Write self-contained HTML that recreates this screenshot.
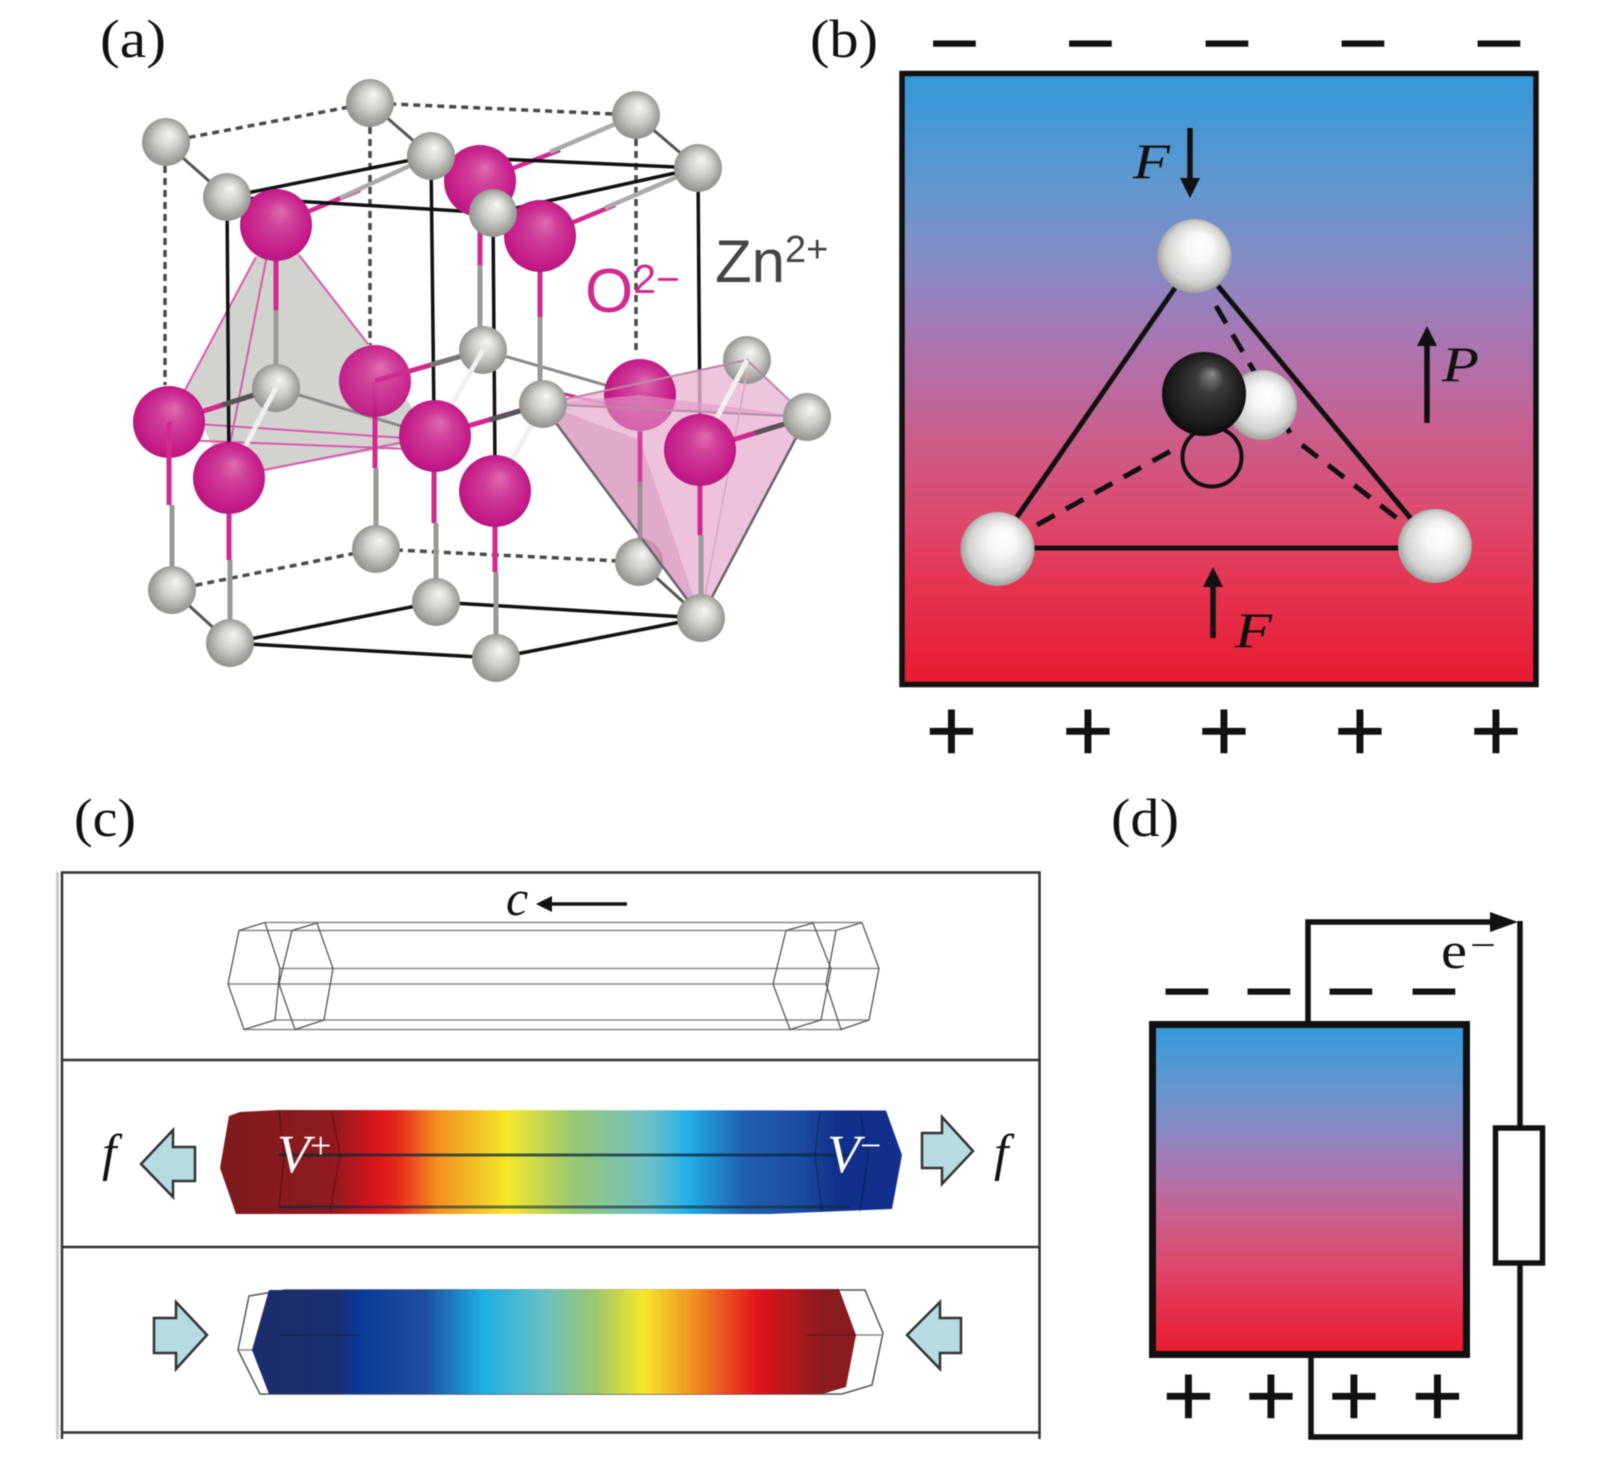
<!DOCTYPE html>
<html><head><meta charset="utf-8"><style>html,body{margin:0;padding:0;background:#fff}svg{display:block;filter:blur(.5px)}</style></head>
<body>
<svg xmlns="http://www.w3.org/2000/svg" width="1600" height="1460" viewBox="0 0 1600 1460">
<defs>
<radialGradient id="g" cx=".5" cy=".5" r=".55" fx=".58" fy=".32"><stop offset="0" stop-color="#f6f6f3"/><stop offset=".45" stop-color="#cfcfcb"/><stop offset=".85" stop-color="#9a9a97"/><stop offset="1" stop-color="#8c8c8a"/></radialGradient>
<radialGradient id="p" cx=".5" cy=".5" r=".55" fx=".58" fy=".3"><stop offset="0" stop-color="#e06cb0"/><stop offset=".35" stop-color="#cf3f9a"/><stop offset=".8" stop-color="#c61c88"/><stop offset="1" stop-color="#a9187a"/></radialGradient>
<radialGradient id="w" cx=".5" cy=".5" r=".55" fx=".6" fy=".32"><stop offset="0" stop-color="#fff"/><stop offset=".35" stop-color="#f6f6f6"/><stop offset=".75" stop-color="#d2d2d0"/><stop offset="1" stop-color="#8f8f8c"/></radialGradient>
<radialGradient id="k" cx=".5" cy=".5" r=".55" fx=".6" fy=".25"><stop offset="0" stop-color="#8a8a8a"/><stop offset=".3" stop-color="#3a3a3a"/><stop offset=".8" stop-color="#1a1a1a"/><stop offset="1" stop-color="#050505"/></radialGradient>
<linearGradient id="pol" x1="0" y1="0" x2="0" y2="1"><stop offset="0" stop-color="#3399d9"/><stop offset=".2" stop-color="#6696cf"/><stop offset=".33" stop-color="#8b88c2"/><stop offset=".45" stop-color="#ac74b0"/><stop offset=".58" stop-color="#c8608f"/><stop offset=".72" stop-color="#dc4a6f"/><stop offset=".85" stop-color="#e6324f"/><stop offset="1" stop-color="#e81b2e"/></linearGradient>
<linearGradient id="bar1" gradientUnits="userSpaceOnUse" x1="220" y1="0" x2="905" y2="0"><stop offset="0" stop-color="#7d1a1e"/><stop offset=".163" stop-color="#8f1a1e"/><stop offset=".23" stop-color="#dc151c"/><stop offset=".26" stop-color="#e82a1c"/><stop offset=".318" stop-color="#f39020"/><stop offset=".42" stop-color="#f5e82a"/><stop offset=".512" stop-color="#9cc870"/><stop offset=".628" stop-color="#6cc0c8"/><stop offset=".682" stop-color="#22b0e6"/><stop offset=".764" stop-color="#2060ae"/><stop offset=".851" stop-color="#1c4a9e"/><stop offset=".899" stop-color="#10308c"/><stop offset="1" stop-color="#10308c"/></linearGradient>
<linearGradient id="bar2" gradientUnits="userSpaceOnUse" x1="252" y1="0" x2="856" y2="0"><stop offset="0" stop-color="#1c2e6a"/><stop offset=".143" stop-color="#1a2f72"/><stop offset=".176" stop-color="#0a3a96"/><stop offset=".286" stop-color="#1f4ea0"/><stop offset=".385" stop-color="#1eb0e4"/><stop offset=".484" stop-color="#68c0c4"/><stop offset=".572" stop-color="#a0c868"/><stop offset=".648" stop-color="#f5e82a"/><stop offset=".736" stop-color="#f08a20"/><stop offset=".835" stop-color="#e2141c"/><stop offset=".945" stop-color="#8a1c20"/><stop offset="1" stop-color="#8a1c20"/></linearGradient>
</defs>

<!-- ===== panel labels ===== -->
<g font-family="'Liberation Serif',serif" font-size="54" fill="#111">
<text x="100" y="57" textLength="66" lengthAdjust="spacingAndGlyphs">(a)</text>
<text x="810" y="57" textLength="68" lengthAdjust="spacingAndGlyphs">(b)</text>
<text x="74" y="836" textLength="62" lengthAdjust="spacingAndGlyphs">(c)</text>
<text x="1111" y="836" textLength="68" lengthAdjust="spacingAndGlyphs">(d)</text>
</g>

<!-- ===== panel a ===== -->
<g fill="none" stroke="#4a4a4a" stroke-width="3.5" stroke-dasharray="7 5">
<path d="M165 142L370 103L636 115"/>
<path d="M165 142V385M370 103V345M636 115V355"/>
<path d="M172 590L376 549L639 562"/>
</g>
<polygon points="276,225 300,255 372,348 434,440 229,477 185,392 256,257" fill="#d2d3cf"/>
<g fill="none" stroke="#d95aa8" stroke-width="2">
<path d="M256 257L185 390M299 255L368 344M169 422L434 440M180 440L434 450M229 477L434 436M268 250L225 470"/>
</g>
<g stroke="#8a8a88" stroke-width="3" fill="none"><path d="M276 388L434 436M483 350L640 395"/></g>
<path d="M560 393L640 412" stroke="#d2298f" stroke-width="3"/>
<!-- back bonds -->
<g stroke-width="4.5" fill="none">
<path d="M165 142L227 197M370 103L431 156M636 115L698 168M172 590L230 643M639 562L701 618" stroke="#555" stroke-width="3"/>
<path d="M276 225L360 190" stroke="#d2298f"/><path d="M340 198L431 156" stroke="#aaa"/>
<path d="M480 181L560 150" stroke="#d2298f"/><path d="M550 152L636 115" stroke="#aaa"/>
<path d="M540 236L615 205" stroke="#d2298f"/><path d="M605 208L698 168" stroke="#aaa"/>
<path d="M276 225V310M480 181V265M540 236V317M375 381V468M640 395V482" stroke="#d2298f" stroke-width="5"/>
<path d="M276 310V388M480 265V350M540 317V404M376 468V549M640 482V562" stroke="#9a9a96" stroke-width="5"/>
</g>
<!-- black frame -->
<g stroke="#111" stroke-width="3.5" fill="none">
<path d="M227 197L431 156L698 168L493 213Z"/>
<path d="M227 197L229 470M431 156L434 420M493 213L495 470M698 168L700 430"/>
<path d="M230 643L436 602L701 618L496 658Z"/>
</g>
<!-- pink tetrahedron -->
<polygon points="543,404 747,360 807,417" fill="#e9b6d4" opacity=".8"/>
<circle cx="376" cy="549" r="24" fill="url(#g)"/>
<circle cx="639" cy="562" r="24" fill="url(#g)"/>
<circle cx="370" cy="103" r="24" fill="url(#g)"/>
<circle cx="166" cy="142" r="24" fill="url(#g)"/>
<circle cx="636" cy="115" r="24" fill="url(#g)"/>
<circle cx="480" cy="181" r="36" fill="url(#p)"/>
<circle cx="431" cy="156" r="24" fill="url(#g)"/>
<circle cx="698" cy="168" r="24" fill="url(#g)"/>
<circle cx="276" cy="225" r="36" fill="url(#p)"/>
<circle cx="227" cy="197" r="24" fill="url(#g)"/>
<circle cx="540" cy="236" r="36" fill="url(#p)"/>
<circle cx="493" cy="213" r="24" fill="url(#g)"/>
<circle cx="375" cy="381" r="36" fill="url(#p)" opacity=".95"/>
<path d="M375 381L483 350" stroke="#d2298f" stroke-width="5"/><path d="M430 365L483 350" stroke="#777" stroke-width="5"/>
<circle cx="483" cy="350" r="24" fill="url(#g)"/>
<circle cx="747" cy="360" r="24" fill="url(#g)"/>
<circle cx="640" cy="395" r="36" fill="url(#p)"/>
<polygon points="543,404 701,618 807,417 640,395" fill="#e39ac6" opacity=".6"/>
<polygon points="543,404 701,618 640,440" fill="#b96a9c" opacity=".28"/>
<path d="M550 415L701 618L807 417" fill="none" stroke="#666" stroke-width="2.5"/>
<path d="M543 404L807 417M543 404L747 360L807 417" fill="none" stroke="#b98aa6" stroke-width="2"/>
<path d="M640 432V482" stroke="#cf3f98" stroke-width="4.5"/>
<path d="M640 482V540" stroke="#a08a98" stroke-width="4.5"/>
<path d="M747 372L701 618" stroke="#d8a8c4" stroke-width="1.5"/>
<circle cx="276" cy="388" r="24" fill="url(#g)"/>
<path d="M169 422L276 388" stroke="#d2298f" stroke-width="5"/><path d="M222 405L276 388" stroke="#555" stroke-width="5"/>
<circle cx="276" cy="388" r="24" fill="url(#g)"/>
<circle cx="169" cy="422" r="36" fill="url(#p)"/>
<path d="M169 422V505" stroke="#d2298f" stroke-width="5"/><path d="M172 505V590" stroke="#9a9a96" stroke-width="5"/>
<circle cx="172" cy="590" r="24" fill="url(#g)"/>
<path d="M276 388L229 477" stroke="#f0f0ee" stroke-width="5"/>
<path d="M483 350L434 436" stroke="#f0f0ee" stroke-width="5"/>
<path d="M543 404L495 491" stroke="#f0f0ee" stroke-width="5"/>
<path d="M747 360L700 450" stroke="#f0f0ee" stroke-width="5"/>
<path d="M229 477V560M434 436V523M495 491V572M700 450V535" stroke="#d2298f" stroke-width="5"/>
<path d="M230 560V643M436 523V602M496 572V658M701 535V618" stroke="#9a9a96" stroke-width="5"/>
<circle cx="229" cy="478" r="36" fill="url(#p)"/>
<path d="M434 436L543 404" stroke="#d2298f" stroke-width="5"/><path d="M490 420L543 404" stroke="#555" stroke-width="5"/>
<circle cx="435" cy="436" r="36" fill="url(#p)"/>
<circle cx="543" cy="404" r="24" fill="url(#g)"/>
<circle cx="495" cy="491" r="36" fill="url(#p)"/>
<circle cx="436" cy="602" r="24" fill="url(#g)"/>
<circle cx="230" cy="643" r="24" fill="url(#g)"/>
<circle cx="496" cy="658" r="24" fill="url(#g)"/>
<path d="M700 450L807 417" stroke="#d2298f" stroke-width="5"/><path d="M755 433L807 417" stroke="#555" stroke-width="5"/>
<circle cx="700" cy="450" r="36" fill="url(#p)"/>
<circle cx="807" cy="417" r="24" fill="url(#g)"/>
<circle cx="701" cy="618" r="24" fill="url(#g)"/>
<g font-family="'Liberation Sans',sans-serif">
<text x="585" y="312" font-size="62" fill="#d0298e">O<tspan font-size="41" dy="-19">2−</tspan></text>
<text x="715" y="282" font-size="60" fill="#444">Zn<tspan font-size="38" dy="-20">2+</tspan></text>
</g>

<!-- ===== panel b ===== -->
<rect x="902" y="73.5" width="634" height="611" fill="url(#pol)" stroke="#111" stroke-width="5.5"/>
<g fill="none" stroke="#111" stroke-width="5">
<path d="M1175 288L1017 517M1218 286L1412 520M1032 548H1400"/>
<path d="M1037 525L1178 447M1302 445L1402 522M1216 306L1290 433" stroke-dasharray="20 13"/>
<circle cx="1212" cy="457" r="29.5" stroke-width="4"/>
</g>
<circle cx="1262" cy="405" r="35" fill="url(#w)"/>
<circle cx="1204" cy="394" r="42" fill="url(#k)"/>
<circle cx="1194.500" cy="256" r="37" fill="url(#w)"/>
<circle cx="997.500" cy="549" r="37" fill="url(#w)"/>
<circle cx="1435" cy="546" r="37" fill="url(#w)"/>
<g stroke="#111" stroke-width="5.500" fill="#111">
<path d="M1190 128V184M1213 638V580M1427 423V340" fill="none"/>
</g>
<g fill="#111">
<polygon points="1190,198 1180,178 1200,178"/>
<polygon points="1213,567 1203,587 1223,587"/>
<polygon points="1427,326 1417,346 1437,346"/>
</g>
<g font-family="'Liberation Serif',serif" font-style="italic" font-size="50" fill="#111">
<text x="1133" y="178" textLength="37" lengthAdjust="spacingAndGlyphs">F</text>
<text x="1235" y="647" textLength="37" lengthAdjust="spacingAndGlyphs">F</text>
<text x="1442" y="381" textLength="37" lengthAdjust="spacingAndGlyphs">P</text>
</g>
<g font-family="'Liberation Sans',sans-serif" fill="#111" text-anchor="middle">
<g font-size="88">
<text x="954.500" y="73">−</text><text x="1090.500" y="73">−</text><text x="1227" y="73">−</text><text x="1363" y="73">−</text><text x="1499" y="73">−</text>
</g>
<g font-size="88" stroke="#111" stroke-width=".6">
<text x="951.500" y="761">+</text><text x="1088" y="761">+</text><text x="1224" y="761">+</text><text x="1360" y="761">+</text><text x="1496" y="761">+</text>
</g>
</g>

<!-- ===== panel c ===== -->
<rect x="56" y="872" width="3" height="567" fill="#ccc"/>
<g stroke="#333" stroke-width="2.500" fill="none">
<path d="M62 1439V872.500H1039.500V1439M62 1060H1039.500M62 1247H1039.500M62 1432.500H1039.500"/>
</g>
<!-- wireframe -->
<g fill="none" stroke="#888" stroke-width="1.6">
<path d="M265 922.500H862M239 930.500H836M279 968.500H879M228 984H826M275 1020H869M244 1029.500H841"/>
</g>
<g fill="none" stroke="#555" stroke-width="1.3">
<path d="M239 930.500L265 922.500L280 968.500L275 1020L244 1029.500L228 984Z"/>
<path d="M292 930.500L317 923L333 968.500L324 1020L295 1029.500L279 984Z"/>
<path d="M786 930.500L813 923L831 968.500L821 1020L790 1029.500L773 984Z"/>
<path d="M836 930.500L862 922.500L879 968.500L869 1020L841 1029.500L826 984Z"/>
</g>
<text x="506" y="915" font-family="'Liberation Serif',serif" font-style="italic" font-size="50" fill="#111">c</text>
<path d="M627 904H545" stroke="#111" stroke-width="3.500"/>
<polygon points="536,904 552,896 552,912" fill="#111"/>

<!-- middle bar -->
<polygon points="229,1116 240,1112 279,1110 886,1110.500 902,1155 892,1209 770,1214 236,1214 220,1168" fill="url(#bar1)"/>
<path d="M279 1155H850" stroke="#0b2a3a" stroke-opacity=".75" stroke-width="3"/>
<path d="M279 1207H850" stroke="#0b2a3a" stroke-opacity=".6" stroke-width="3"/>
<path d="M279 1110L284 1155L279 1207M332 1112L340 1155L330 1212M820 1112L815 1155L822 1212M860 1112L868 1155L860 1212" stroke="#000" stroke-opacity=".25" stroke-width="1.500" fill="none"/>
<g font-family="'Liberation Serif',serif" font-style="italic" font-size="54" fill="#fff">
<text x="277" y="1172">V<tspan font-style="normal" font-size="38" dy="-14">+</tspan></text>
<text x="827" y="1172">V<tspan font-style="normal" font-size="38" dy="-14">−</tspan></text>
</g>
<g font-family="'Liberation Serif',serif" font-style="italic" font-size="52" fill="#111">
<text x="102" y="1170">f</text>
<text x="994" y="1170">f</text>
</g>
<g fill="#b5dce0" stroke="#333" stroke-width="2.500" stroke-linejoin="miter">
<polygon points="141,1164 173,1130 173,1147 195,1147 195,1181 173,1181 173,1197"/>
<polygon points="973,1151 942,1117 942,1133 922,1133 922,1168 942,1168 942,1184"/>
<polygon points="207,1335 176,1302 176,1318 154,1318 154,1353 176,1353 176,1369"/>
<polygon points="907,1335 940,1302 940,1318 961,1318 961,1353 940,1353 940,1369"/>
</g>

<!-- bottom bar -->
<polygon points="249,1296 285,1290 865,1290 883,1333 872,1385 842,1394 260,1394 238,1350" fill="#fff" stroke="#555" stroke-width="1.500"/>
<polygon points="269,1290 839,1289 856,1335 846,1387 822,1394 269,1394 252,1350" fill="url(#bar2)"/>
<path d="M856 1335H883M239 1350H252" stroke="#888" stroke-width="1.500"/>
<path d="M280 1335H360M805 1335H856" stroke="#000" stroke-opacity=".25" stroke-width="1.500"/>

<!-- ===== panel d ===== -->
<rect x="1152.500" y="1024.500" width="314" height="330" fill="url(#pol)" stroke="#111" stroke-width="7"/>
<g fill="none" stroke="#111" stroke-width="5.500">
<path d="M1308 1022V922H1490"/>
<path d="M1520 921V1126M1520 1262V1437H1311V1357"/>
<rect x="1495.500" y="1128" width="47" height="135"/>
</g>
<polygon points="1518,922 1490,912 1490,932" fill="#111"/>
<g font-family="'Liberation Serif',serif" fill="#111">
<text x="1441" y="968" font-size="52" textLength="26" lengthAdjust="spacingAndGlyphs">e</text>
<text x="1470" y="957" font-size="36" textLength="26" lengthAdjust="spacingAndGlyphs">−</text>
</g>
<g font-family="'Liberation Sans',sans-serif" fill="#111" text-anchor="middle">
<g font-size="88">
<text x="1187" y="1021">−</text><text x="1269" y="1021">−</text><text x="1351" y="1021">−</text><text x="1434" y="1021">−</text>
</g>
<g font-size="88" stroke="#111" stroke-width=".6">
<text x="1188.500" y="1426">+</text><text x="1271" y="1426">+</text><text x="1354" y="1426">+</text><text x="1437.500" y="1426">+</text>
</g>
</g>
</svg>
</body></html>
